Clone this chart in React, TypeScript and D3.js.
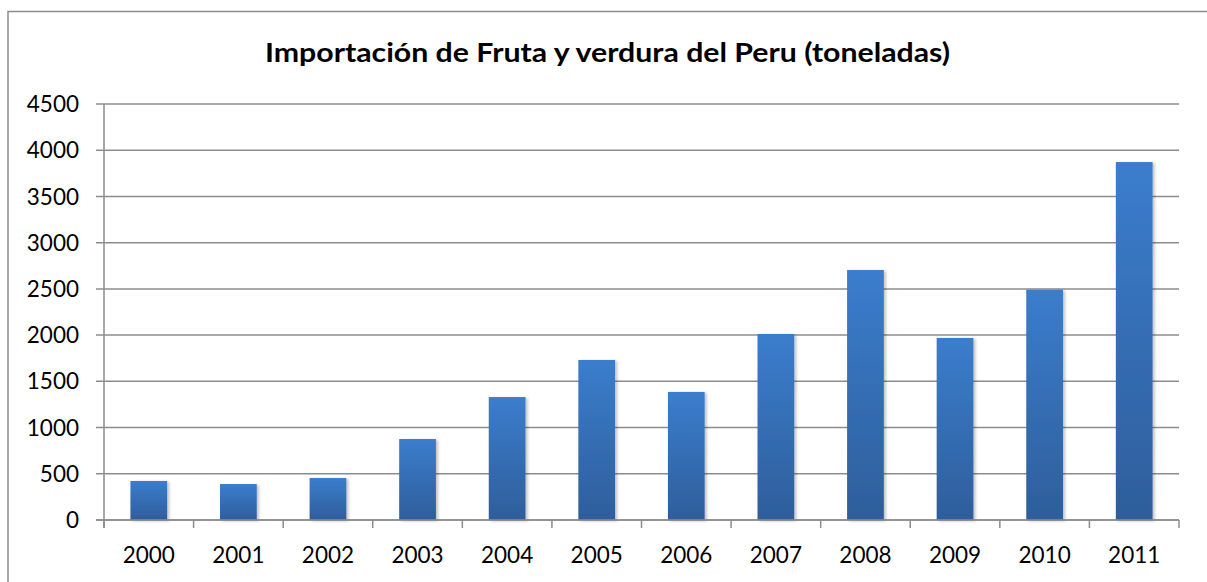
import { useEffect, useRef } from "react";
import * as d3 from "d3";

const years = ["2000", "2001", "2002", "2003", "2004", "2005", "2006", "2007", "2008", "2009", "2010", "2011"];
const tonnes = [422, 389, 454, 876, 1330, 1731, 1385, 2012, 2704, 1969, 2491, 3872];
const yTicks = [0, 500, 1000, 1500, 2000, 2500, 3000, 3500, 4000, 4500];
const title = "Importación de Fruta y verdura del Peru (toneladas)";

const W = 1207;
const H = 582;
const FONT = "Lato, 'Noto Sans', sans-serif";
const GRID = "#8c8c8c";

export default function App() {
  const svgRef = useRef<SVGSVGElement>(null);

  useEffect(() => {
    if (!svgRef.current) return;
    const svg = d3.select(svgRef.current);
    svg.selectAll("*").remove();

    const left = 104;
    const right = 1179;
    const top = 104;
    const bottom = 520;

    const x = d3.scaleBand<string>().domain(years).range([left, right]).padding(0);
    const y = d3.scaleLinear().domain([0, 4500]).range([bottom, top]);

    const defs = svg.append("defs");
    const grad = defs
      .append("linearGradient")
      .attr("id", "barGrad")
      .attr("x1", 0)
      .attr("y1", 0)
      .attr("x2", 0)
      .attr("y2", 1);
    grad.append("stop").attr("offset", "0%").attr("stop-color", "#3b7dcd");
    grad.append("stop").attr("offset", "100%").attr("stop-color", "#2e5e9b");

    const shadow = defs
      .append("filter")
      .attr("id", "barShadow")
      .attr("x", "-20%")
      .attr("y", "-5%")
      .attr("width", "150%")
      .attr("height", "115%");
    shadow
      .append("feDropShadow")
      .attr("dx", 2)
      .attr("dy", 1)
      .attr("stdDeviation", 1.8)
      .attr("flood-color", "#000")
      .attr("flood-opacity", 0.25);

    // chart frame: only top and left edges are in view
    svg
      .append("path")
      .attr("d", `M8,${H} L8,11.5 L${W},11.5`)
      .attr("fill", "none")
      .attr("stroke", GRID)
      .attr("stroke-width", 1.5);

    svg
      .append("text")
      .attr("x", 607.5)
      .attr("y", 62)
      .attr("text-anchor", "middle")
      .attr("font-family", FONT)
      .attr("font-weight", 700)
      .attr("font-size", 27)
      .attr("textLength", 685)
      .attr("lengthAdjust", "spacingAndGlyphs")
      .attr("fill", "#000")
      .text(title);

    // gridlines + y ticks
    svg
      .append("g")
      .selectAll("line")
      .data(yTicks)
      .enter()
      .append("line")
      .attr("x1", left - 8)
      .attr("x2", right)
      .attr("y1", (d) => y(d))
      .attr("y2", (d) => y(d))
      .attr("stroke", GRID)
      .attr("stroke-width", 1.5);

    svg
      .append("g")
      .selectAll("text")
      .data(yTicks)
      .enter()
      .append("text")
      .attr("x", 79)
      .attr("y", (d) => y(d))
      .attr("dy", "0.36em")
      .attr("text-anchor", "end")
      .attr("font-family", FONT)
      .attr("font-size", 22.5)
      .attr("fill", "#000")
      .text((d) => String(d));

    // y axis line
    svg
      .append("line")
      .attr("x1", left)
      .attr("x2", left)
      .attr("y1", top)
      .attr("y2", bottom + 8)
      .attr("stroke", GRID)
      .attr("stroke-width", 1.5);

    // x ticks at category boundaries
    const bounds = years.map((d) => x(d) as number).concat([right]);
    svg
      .append("g")
      .selectAll("line")
      .data(bounds)
      .enter()
      .append("line")
      .attr("x1", (d) => d)
      .attr("x2", (d) => d)
      .attr("y1", bottom)
      .attr("y2", bottom + 8)
      .attr("stroke", GRID)
      .attr("stroke-width", 1.5);

    const barW = x.bandwidth() * 0.41;
    svg
      .append("g")
      .selectAll("rect")
      .data(years)
      .enter()
      .append("rect")
      .attr("x", (d) => (x(d) as number) + (x.bandwidth() - barW) / 2)
      .attr("y", (_, i) => y(tonnes[i]))
      .attr("width", barW)
      .attr("height", (_, i) => bottom - y(tonnes[i]))
      .attr("fill", "url(#barGrad)")
      .attr("filter", "url(#barShadow)");

    // redraw baseline over bars
    svg
      .append("line")
      .attr("x1", left - 8)
      .attr("x2", right)
      .attr("y1", bottom)
      .attr("y2", bottom)
      .attr("stroke", GRID)
      .attr("stroke-width", 1.5);

    svg
      .append("g")
      .selectAll("text")
      .data(years)
      .enter()
      .append("text")
      .attr("x", (d) => (x(d) as number) + x.bandwidth() / 2)
      .attr("y", 563)
      .attr("text-anchor", "middle")
      .attr("font-family", FONT)
      .attr("font-size", 22.5)
      .attr("fill", "#000")
      .text((d) => d);
  }, []);

  return (
    <svg
      ref={svgRef}
      width={W}
      height={H}
      style={{ position: "absolute", left: 0, top: 0, background: "#fff" }}
    />
  );
}
